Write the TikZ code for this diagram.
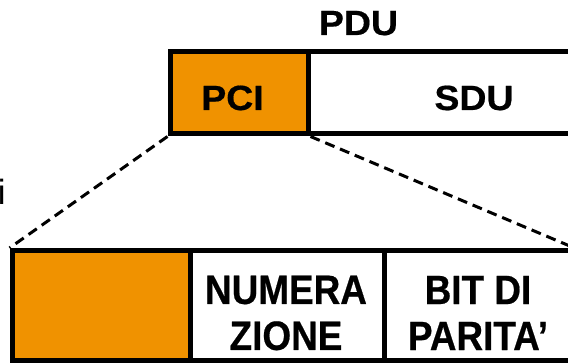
\documentclass[tikz,border=0pt]{standalone}
\usepackage{fontspec}
\setmainfont{Liberation Sans}
\newfontfamily\widesans[FakeStretch=1.07, BoldFeatures={FakeBold=0.5}]{Liberation Sans}
\newfontfamily\narrowsans[FakeStretch=0.9, BoldFeatures={FakeBold=0.5}]{Liberation Sans}
\definecolor{pciorange}{RGB}{240,146,0}

\begin{document}
\begin{tikzpicture}[x=1pt, y=1pt,
  field/.style={draw=black, line width=5pt, fill=white, inner sep=0pt},
  toptext/.style={font=\widesans\bfseries\fontsize{35}{35}\selectfont, inner sep=0pt, anchor=base},
  lowtext/.style={font=\narrowsans\bfseries\fontsize{41}{46}\selectfont, inner sep=0pt, align=center},
  zoomline/.style={line width=3pt, dash pattern=on 10pt off 6pt}]

\useasboundingbox (0,0) rectangle (568,363);

% PDU boxes
\node[field, fill=pciorange, minimum width=138pt, minimum height=82pt] (pci) at (239,270) {};
\node[field, minimum width=292pt, minimum height=82pt] (sdu) at (454,270) {};

% PCI fields
\node[field, fill=pciorange, minimum width=178pt, minimum height=110pt] (hdr) at (101,57.5) {};
\node[field, minimum width=194pt, minimum height=110pt] (num) at (287,57.5) {};
\node[field, minimum width=188pt, minimum height=110pt] (par) at (478,57.5) {};

% Zoom lines
\draw[zoomline] (pci.south west) -- (hdr.north west);
\draw[zoomline] (pci.south east) -- (par.north east);

% Labels
\node[toptext] (pdutxt) at (358.5,328) {PDU};
\node[toptext] (pcitxt) at (232.5,253) {PCI};
\node[toptext] (sdutxt) at (474,253) {SDU};

\node[lowtext] (numtxt) at (286,50) {NUMERA\\ZIONE};
\node[lowtext] (partxt) at (478,50) {BIT DI\\PARITA’};

\node[font=\fontsize{35}{35}\selectfont, inner sep=0pt, anchor=base west] (itxt) at (-2.4,158) {i};

\end{tikzpicture}
\end{document}
